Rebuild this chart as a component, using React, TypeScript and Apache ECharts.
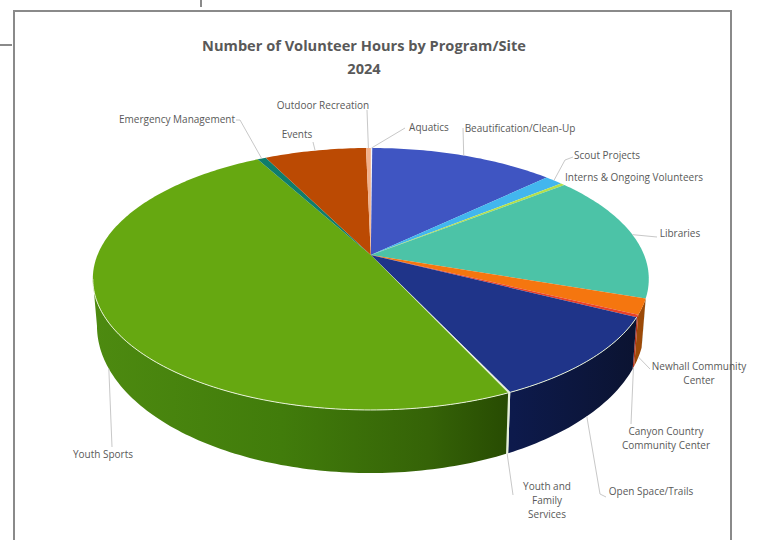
import React, { useEffect, useRef } from "react";
import * as echarts from "echarts";

const categories = [
  "Aquatics", "Beautification/Clean-Up", "Scout Projects", "Interns & Ongoing Volunteers",
  "Libraries", "Newhall Community\nCenter", "Canyon Country\nCommunity Center", "Open Space/Trails",
  "Youth and\nFamily\nServices", "Youth Sports", "Emergency Management", "Events", "Outdoor Recreation",
];
const hoursShare = [0.1, 12.8, 1.25, 0.3, 15.8, 1.9, 0.3, 10.55, 0.12, 48.9, 0.6, 7.05, 0.33];
const topColors = ["#f4f7ff", "#3f55c2", "#42b6ee", "#b4e04a", "#4cc3a7", "#f5760f", "#e8412a", "#1f3489", "#e6f0d8", "#66a811", "#0f7d6c", "#bb4a03", "#f2b08a"];
const wallColors: any[] = ["#ccc", "#2a3a88", "#2a7fa8", "#7fa030", "#2f8a74", "#9c4a08", "#b5301c", null, "#e6f0d8", null, "#0a5a4c", "#843402", "#c08060"];

// Layout of the projected pie
const CX = 370.8, CY = 255, A = 126.6, B = 273.3, K = 0.183;
const WALL_DY = 44, WALL_SX = 0.985, WALL_SY = 1.123;
const WALL_FROM = 108.7, WALL_TO = 259.5;

// label centre, waypoints of leader (in px), start rim: "top" | "bottom"
const labelLayout: any[] = [
  { c: [429, 127], via: [[405, 128]], rim: "top" },
  { c: [520, 128], via: [[463, 128]], rim: "top" },
  { c: [607, 155], via: [[565, 160], [573, 157]], rim: "top" },
  { c: [634, 177], via: [], rim: "none" },
  { c: [680, 233], via: [[657, 237]], rim: "top" },
  { c: [699, 373], via: [[650, 369]], rim: "bottom" },
  { c: [666, 438], via: [[631, 424]], rim: "bottom" },
  { c: [651, 491], via: [[600, 494], [606, 497]], rim: "bottom" },
  { c: [547, 500], via: [[513, 495]], rim: "bottom" },
  { c: [103, 454], via: [[112, 447]], rim: "bottom" },
  { c: [177, 119], via: [[240, 120], [236, 120]], rim: "top" },
  { c: [297, 134], via: [[313, 142]], rim: "top" },
  { c: [323, 105], via: [[367, 110]], rim: "top" },
];

const total = hoursShare.reduce((a, b) => a + b, 0);
const bounds: number[] = [0];
hoursShare.forEach((v) => bounds.push(bounds[bounds.length - 1] + (v / total) * 360));

function top(deg: number): number[] {
  const t = (deg * Math.PI) / 180;
  const x = Math.sin(t), y = -Math.cos(t), w = 1 - K * y;
  return [CX + (B * x) / w, CY + (A * y) / w];
}
function bottom(deg: number): number[] {
  const p = top(deg);
  return [CX + (p[0] - CX) * WALL_SX, CY + WALL_DY + (p[1] - CY) * WALL_SY];
}
function arc(a0: number, a1: number, f: (d: number) => number[]): number[][] {
  const pts: number[][] = [];
  const n = Math.max(1, Math.ceil(a1 - a0));
  for (let i = 0; i <= n; i++) pts.push(f(a0 + ((a1 - a0) * i) / n));
  return pts;
}
function wallFill(i: number) {
  if (categories[i] === "Youth Sports")
    return new echarts.graphic.LinearGradient(93, 0, 512, 0, [
      { offset: 0, color: "#4d8a10" }, { offset: 0.45, color: "#417c0b" },
      { offset: 0.8, color: "#356307" }, { offset: 1, color: "#274a02" },
    ], true);
  if (categories[i] === "Open Space/Trails")
    return new echarts.graphic.LinearGradient(512, 0, 640, 0, [
      { offset: 0, color: "#0d1a4c" }, { offset: 1, color: "#0b1330" },
    ], true);
  return wallColors[i];
}

const renderWall = (params: any) => {
  const i = params.dataIndex;
  const a0 = Math.max(bounds[i], WALL_FROM), a1 = Math.min(bounds[i + 1], WALL_TO);
  if (a1 <= a0) return { type: "group", children: [] };
  const pts = arc(a0, a1, top).concat(arc(a0, a1, bottom).reverse());
  return { type: "polygon", shape: { points: pts }, style: { fill: wallFill(i) } };
};
const renderTop = (params: any) => {
  const i = params.dataIndex;
  const a = arc(bounds[i], bounds[i + 1], top);
  const children: any[] = [{ type: "polygon", shape: { points: [[CX, CY], ...a] }, style: { fill: topColors[i] } }];
  const r0 = Math.max(bounds[i], WALL_FROM), r1 = Math.min(bounds[i + 1], WALL_TO);
  if (r1 > r0 && hoursShare[i] > 5)
    children.push({ type: "polyline", shape: { points: arc(r0, r1, top) }, style: { fill: "none", stroke: "#e8f2d8", lineWidth: 1 } });
  return { type: "group", children };
};
const renderLabel = (params: any) => {
  const i = params.dataIndex;
  const l = labelLayout[i];
  const mid = (bounds[i] + bounds[i + 1]) / 2;
  const children: any[] = [];
  if (l.rim !== "none") {
    const s = l.rim === "top" ? top(mid) : bottom(mid);
    children.push({ type: "polyline", shape: { points: [s, ...l.via] }, style: { fill: "none", stroke: "#c8c8c8", lineWidth: 1 } });
  }
  children.push({
    type: "text",
    style: {
      text: categories[i], x: l.c[0], y: l.c[1], align: "center", verticalAlign: "middle",
      font: "10px 'Open Sans'", lineHeight: 14, fill: "#595959",
    },
  });
  return { type: "group", children };
};

export default function App() {
  const ref = useRef<HTMLDivElement>(null);
  useEffect(() => {
    const chart = echarts.init(ref.current!, null, { renderer: "svg" });
    chart.setOption({
      animation: false,
      backgroundColor: "#ffffff",
      title: {
        text: "Number of Volunteer Hours by Program/Site\n2024",
        left: 359, top: 28, textAlign: "center",
        textStyle: { fontFamily: "Open Sans", fontSize: 14.6, fontWeight: "bold", color: "#595959", lineHeight: 23 },
      },
      graphic: [
        { type: "rect", shape: { x: 14, y: 11, width: 717, height: 540 }, style: { fill: "none", stroke: "#8a8a8a", lineWidth: 2 }, z: 0 },
        { type: "line", shape: { x1: 0, y1: 45, x2: 12, y2: 45 }, style: { stroke: "#8a8a8a", lineWidth: 2 } },
        { type: "line", shape: { x1: 201, y1: 0, x2: 201, y2: 7 }, style: { stroke: "#8a8a8a", lineWidth: 2 } },
      ],
      series: [
        { type: "custom", coordinateSystem: "none", renderItem: renderWall, data: hoursShare, z: 2, silent: true },
        { type: "custom", coordinateSystem: "none", renderItem: renderTop, data: hoursShare, z: 3, silent: true },
        { type: "custom", coordinateSystem: "none", renderItem: renderLabel, data: hoursShare, z: 4, silent: true },
      ],
    });
    return () => chart.dispose();
  }, []);
  return <div ref={ref} style={{ position: "absolute", left: 0, top: 0, width: 764, height: 540 }} />;
}
